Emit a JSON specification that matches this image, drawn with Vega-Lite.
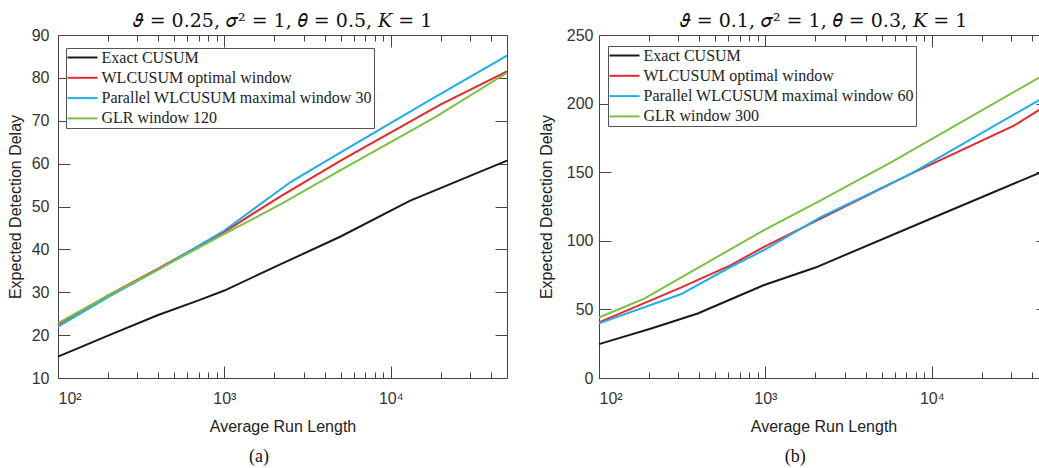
{
  "$schema": "https://vega.github.io/schema/vega-lite/v6.json",
  "padding": {"left": 6, "top": 11, "right": 0, "bottom": 0},
  "spacing": 25,
  "background": "white",
  "resolve": {"scale": {"color": "independent"}, "legend": {"color": "independent"}},
  "datasets": {
    "a": [
      {"arl": 100, "edd": 15.0, "method": "Exact CUSUM"},
      {"arl": 200, "edd": 19.9, "method": "Exact CUSUM"},
      {"arl": 400, "edd": 24.7, "method": "Exact CUSUM"},
      {"arl": 700, "edd": 28.1, "method": "Exact CUSUM"},
      {"arl": 1000, "edd": 30.4, "method": "Exact CUSUM"},
      {"arl": 2200, "edd": 36.6, "method": "Exact CUSUM"},
      {"arl": 5000, "edd": 43.0, "method": "Exact CUSUM"},
      {"arl": 13000, "edd": 51.3, "method": "Exact CUSUM"},
      {"arl": 50000, "edd": 60.7, "method": "Exact CUSUM"},
      {"arl": 100, "edd": 22.5, "method": "WLCUSUM optimal window"},
      {"arl": 200, "edd": 29.3, "method": "WLCUSUM optimal window"},
      {"arl": 400, "edd": 35.5, "method": "WLCUSUM optimal window"},
      {"arl": 1000, "edd": 44.1, "method": "WLCUSUM optimal window"},
      {"arl": 2200, "edd": 52.5, "method": "WLCUSUM optimal window"},
      {"arl": 5000, "edd": 60.7, "method": "WLCUSUM optimal window"},
      {"arl": 20000, "edd": 73.8, "method": "WLCUSUM optimal window"},
      {"arl": 50000, "edd": 81.5, "method": "WLCUSUM optimal window"},
      {"arl": 100, "edd": 22.0, "method": "Parallel WLCUSUM maximal window 30"},
      {"arl": 200, "edd": 28.85, "method": "Parallel WLCUSUM maximal window 30"},
      {"arl": 400, "edd": 35.3, "method": "Parallel WLCUSUM maximal window 30"},
      {"arl": 1000, "edd": 44.4, "method": "Parallel WLCUSUM maximal window 30"},
      {"arl": 2500, "edd": 55.7, "method": "Parallel WLCUSUM maximal window 30"},
      {"arl": 5000, "edd": 62.6, "method": "Parallel WLCUSUM maximal window 30"},
      {"arl": 18000, "edd": 75.3, "method": "Parallel WLCUSUM maximal window 30"},
      {"arl": 50000, "edd": 85.2, "method": "Parallel WLCUSUM maximal window 30"},
      {"arl": 100, "edd": 22.8, "method": "GLR window 120"},
      {"arl": 200, "edd": 29.2, "method": "GLR window 120"},
      {"arl": 400, "edd": 35.3, "method": "GLR window 120"},
      {"arl": 1000, "edd": 43.6, "method": "GLR window 120"},
      {"arl": 2200, "edd": 50.6, "method": "GLR window 120"},
      {"arl": 5000, "edd": 58.5, "method": "GLR window 120"},
      {"arl": 18400, "edd": 70.8, "method": "GLR window 120"},
      {"arl": 50000, "edd": 81.2, "method": "GLR window 120"}
    ],
    "b": [
      {"arl": 100, "edd": 24.7, "method": "Exact CUSUM"},
      {"arl": 206, "edd": 36.1, "method": "Exact CUSUM"},
      {"arl": 392, "edd": 47.0, "method": "Exact CUSUM"},
      {"arl": 975, "edd": 67.6, "method": "Exact CUSUM"},
      {"arl": 2000, "edd": 80.5, "method": "Exact CUSUM"},
      {"arl": 12900, "edd": 122.1, "method": "Exact CUSUM"},
      {"arl": 43000, "edd": 148.8, "method": "Exact CUSUM"},
      {"arl": 50000, "edd": 152.0, "method": "Exact CUSUM"},
      {"arl": 100, "edd": 40.5, "method": "WLCUSUM optimal window"},
      {"arl": 310, "edd": 65.9, "method": "WLCUSUM optimal window"},
      {"arl": 616, "edd": 82.1, "method": "WLCUSUM optimal window"},
      {"arl": 975, "edd": 95.4, "method": "WLCUSUM optimal window"},
      {"arl": 2150, "edd": 116.1, "method": "WLCUSUM optimal window"},
      {"arl": 7480, "edd": 148.8, "method": "WLCUSUM optimal window"},
      {"arl": 31200, "edd": 183.9, "method": "WLCUSUM optimal window"},
      {"arl": 50000, "edd": 199.4, "method": "WLCUSUM optimal window"},
      {"arl": 100, "edd": 39.8, "method": "Parallel WLCUSUM maximal window 60"},
      {"arl": 310, "edd": 61.0, "method": "Parallel WLCUSUM maximal window 60"},
      {"arl": 616, "edd": 80.9, "method": "Parallel WLCUSUM maximal window 60"},
      {"arl": 975, "edd": 93.0, "method": "Parallel WLCUSUM maximal window 60"},
      {"arl": 2150, "edd": 117.2, "method": "Parallel WLCUSUM maximal window 60"},
      {"arl": 7480, "edd": 148.8, "method": "Parallel WLCUSUM maximal window 60"},
      {"arl": 50000, "edd": 206.3, "method": "Parallel WLCUSUM maximal window 60"},
      {"arl": 100, "edd": 44.1, "method": "GLR window 300"},
      {"arl": 187, "edd": 57.9, "method": "GLR window 300"},
      {"arl": 975, "edd": 107.6, "method": "GLR window 300"},
      {"arl": 2150, "edd": 129.4, "method": "GLR window 300"},
      {"arl": 5940, "edd": 158.4, "method": "GLR window 300"},
      {"arl": 50000, "edd": 222.7, "method": "GLR window 300"}
    ]
  },
  "config": {
    "view": {"stroke": "#444", "strokeWidth": 1},
    "axis": {"grid": false, "domain": false, "labelFont": "Liberation Sans", "labelFontSize": 16, "labelColor": "#333", "titleFont": "Liberation Sans", "titleFontSize": 16, "titleFontWeight": "normal", "titleColor": "#222", "tickColor": "#444", "tickWidth": 1},
    "title": {"font": "DejaVu Serif", "fontSize": 19, "fontWeight": "normal", "color": "#111"}
  },
  "hconcat": [
    {
      "title": {"text": "(a)", "orient": "bottom", "anchor": "middle", "font": "Liberation Serif", "fontSize": 18, "offset": 13},
      "vconcat": [
        {
          "title": {"text": "𝜗 = 0.25, 𝜎² = 1, 𝜃 = 0.5, 𝐾 = 1", "offset": -4},
          "width": 449,
          "height": 343,
          "data": {"name": "a"},
          "resolve": {"axis": {"x": "independent", "y": "independent"}},
          "layer": [
            {
              "mark": {"type": "line", "strokeWidth": 2},
              "encoding": {
                "x": {"field": "arl", "type": "quantitative", "scale": {"type": "log", "domain": [100, 50000], "nice": false},
                  "axis": {"orient": "bottom", "values": [100, 1000, 10000], "labelExpr": "datum.value == 100 ? '10²' : datum.value == 1000 ? '10³' : '10⁴'", "tickSize": -12, "labelPadding": 24, "title": "Average Run Length", "titlePadding": 12}},
                "y": {"field": "edd", "type": "quantitative", "scale": {"domain": [10, 90], "nice": false, "zero": false},
                  "axis": {"orient": "left", "values": [10, 20, 30, 40, 50, 60, 70, 80, 90], "tickSize": -12, "labelPadding": 21, "title": "Expected Detection Delay", "titlePadding": 8}},
                "color": {"field": "method", "type": "nominal",
                  "scale": {"domain": ["Exact CUSUM", "WLCUSUM optimal window", "Parallel WLCUSUM maximal window 30", "GLR window 120"], "range": ["#1a1a1a", "#e8282b", "#1eaee8", "#7ac142"]},
                  "legend": {"orient": "none", "legendX": 8, "legendY": 13, "title": null, "symbolType": "M-1.6,0H4.4", "symbolSize": 100, "symbolStrokeWidth": 2, "labelFont": "Liberation Serif", "labelFontSize": 16, "labelColor": "#222", "labelLimit": 500, "labelOffset": 18, "strokeColor": "#555", "fillColor": "white", "padding": 1.5, "rowPadding": 4.3}}
              }
            },
            {
              "mark": {"type": "point", "opacity": 0},
              "encoding": {
                "x": {"field": "arl", "type": "quantitative", "scale": {"type": "log", "domain": [100, 50000], "nice": false},
                  "axis": {"orient": "bottom", "values": [200, 300, 400, 500, 600, 700, 800, 900, 2000, 3000, 4000, 5000, 6000, 7000, 8000, 9000, 20000, 30000, 40000], "labels": false, "tickSize": -6, "title": null}},
                "y": {"field": "edd", "type": "quantitative", "scale": {"domain": [10, 90], "nice": false, "zero": false},
                  "axis": {"orient": "right", "values": [10, 20, 30, 40, 50, 60, 70, 80, 90], "labels": false, "tickSize": -12, "title": null}}
              }
            },
            {
              "mark": {"type": "point", "opacity": 0},
              "encoding": {
                "x": {"field": "arl", "type": "quantitative", "scale": {"type": "log", "domain": [100, 50000], "nice": false},
                  "axis": {"orient": "top", "values": [1000, 10000], "labels": false, "tickSize": -12, "title": null}},
                "y": {"field": "edd", "type": "quantitative", "scale": {"domain": [10, 90], "nice": false, "zero": false}, "axis": null}
              }
            },
            {
              "mark": {"type": "point", "opacity": 0},
              "encoding": {
                "x": {"field": "arl", "type": "quantitative", "scale": {"type": "log", "domain": [100, 50000], "nice": false},
                  "axis": {"orient": "top", "values": [200, 300, 400, 500, 600, 700, 800, 900, 2000, 3000, 4000, 5000, 6000, 7000, 8000, 9000, 20000, 30000, 40000], "labels": false, "tickSize": -6, "title": null}},
                "y": {"field": "edd", "type": "quantitative", "scale": {"domain": [10, 90], "nice": false, "zero": false}, "axis": null}
              }
            }
          ]
        }
      ]
    },
    {
      "title": {"text": "(b)", "orient": "bottom", "anchor": "middle", "font": "Liberation Serif", "fontSize": 18, "offset": 13},
      "vconcat": [
        {
          "title": {"text": "𝜗 = 0.1, 𝜎² = 1, 𝜃 = 0.3, 𝐾 = 1", "offset": -4},
          "width": 449,
          "height": 343,
          "data": {"name": "b"},
          "resolve": {"axis": {"x": "independent", "y": "independent"}},
          "layer": [
            {
              "mark": {"type": "line", "strokeWidth": 2},
              "encoding": {
                "x": {"field": "arl", "type": "quantitative", "scale": {"type": "log", "domain": [100, 50000], "nice": false},
                  "axis": {"orient": "bottom", "values": [100, 1000, 10000], "labelExpr": "datum.value == 100 ? '10²' : datum.value == 1000 ? '10³' : '10⁴'", "tickSize": -12, "labelPadding": 24, "title": "Average Run Length", "titlePadding": 12}},
                "y": {"field": "edd", "type": "quantitative", "scale": {"domain": [0, 250], "nice": false},
                  "axis": {"orient": "left", "values": [0, 50, 100, 150, 200, 250], "tickSize": -12, "labelPadding": 18, "title": "Expected Detection Delay", "titlePadding": 12}},
                "color": {"field": "method", "type": "nominal",
                  "scale": {"domain": ["Exact CUSUM", "WLCUSUM optimal window", "Parallel WLCUSUM maximal window 60", "GLR window 300"], "range": ["#1a1a1a", "#e8282b", "#1eaee8", "#7ac142"]},
                  "legend": {"orient": "none", "legendX": 9, "legendY": 11, "title": null, "symbolType": "M-1.6,0H4.4", "symbolSize": 100, "symbolStrokeWidth": 2, "labelFont": "Liberation Serif", "labelFontSize": 16, "labelColor": "#222", "labelLimit": 500, "labelOffset": 18, "strokeColor": "#555", "fillColor": "white", "padding": 1.5, "rowPadding": 4.3}}
              }
            },
            {
              "mark": {"type": "point", "opacity": 0},
              "encoding": {
                "x": {"field": "arl", "type": "quantitative", "scale": {"type": "log", "domain": [100, 50000], "nice": false},
                  "axis": {"orient": "bottom", "values": [200, 300, 400, 500, 600, 700, 800, 900, 2000, 3000, 4000, 5000, 6000, 7000, 8000, 9000, 20000, 30000, 40000], "labels": false, "tickSize": -6, "title": null}},
                "y": {"field": "edd", "type": "quantitative", "scale": {"domain": [0, 250], "nice": false},
                  "axis": {"orient": "right", "values": [0, 50, 100, 150, 200, 250], "labels": false, "tickSize": -12, "title": null}}
              }
            },
            {
              "mark": {"type": "point", "opacity": 0},
              "encoding": {
                "x": {"field": "arl", "type": "quantitative", "scale": {"type": "log", "domain": [100, 50000], "nice": false},
                  "axis": {"orient": "top", "values": [1000, 10000], "labels": false, "tickSize": -12, "title": null}},
                "y": {"field": "edd", "type": "quantitative", "scale": {"domain": [0, 250], "nice": false}, "axis": null}
              }
            },
            {
              "mark": {"type": "point", "opacity": 0},
              "encoding": {
                "x": {"field": "arl", "type": "quantitative", "scale": {"type": "log", "domain": [100, 50000], "nice": false},
                  "axis": {"orient": "top", "values": [200, 300, 400, 500, 600, 700, 800, 900, 2000, 3000, 4000, 5000, 6000, 7000, 8000, 9000, 20000, 30000, 40000], "labels": false, "tickSize": -6, "title": null}},
                "y": {"field": "edd", "type": "quantitative", "scale": {"domain": [0, 250], "nice": false}, "axis": null}
              }
            }
          ]
        }
      ]
    }
  ]
}
